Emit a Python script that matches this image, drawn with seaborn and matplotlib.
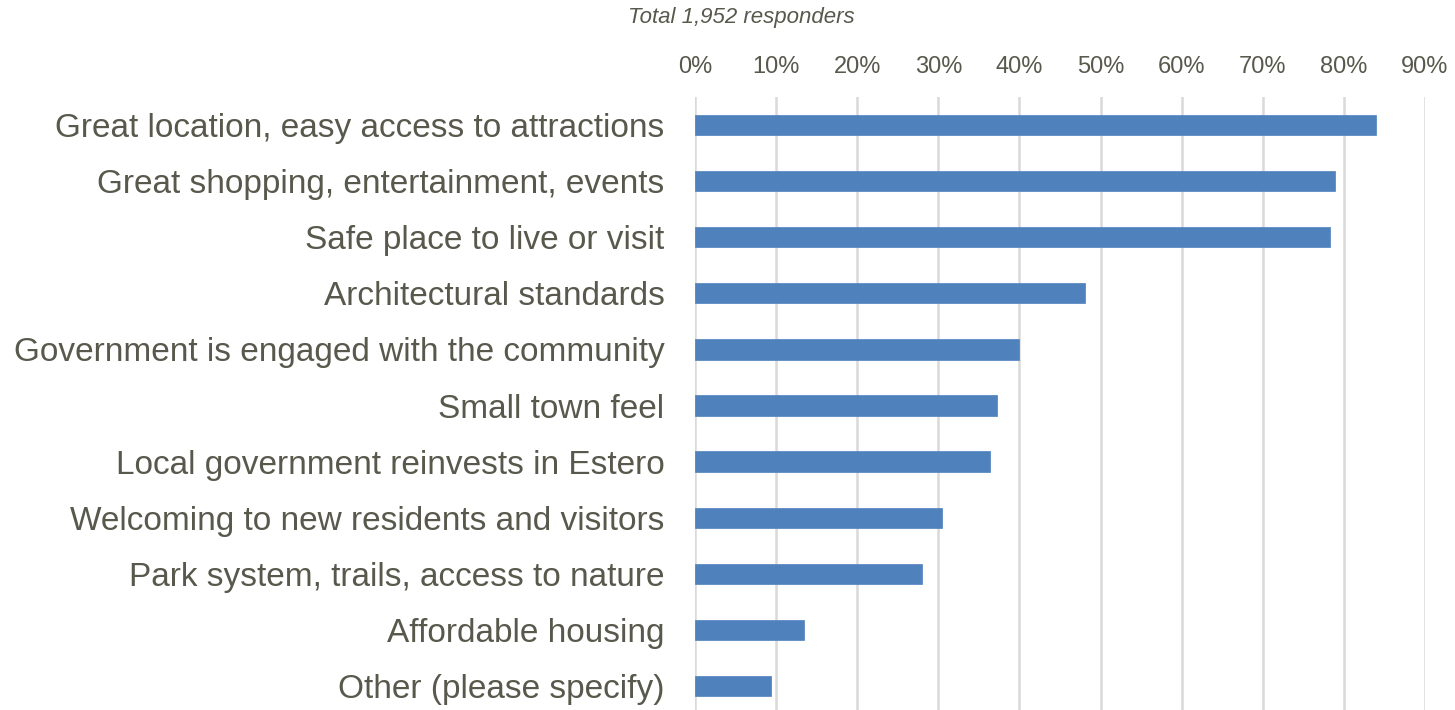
import matplotlib
matplotlib.use("Agg")
import matplotlib.pyplot as plt
import seaborn as sns
import pandas as pd
from matplotlib.ticker import FuncFormatter, MultipleLocator

categories = [
    "Great location, easy access to attractions",
    "Great shopping, entertainment, events",
    "Safe place to live or visit",
    "Architectural standards",
    "Government is engaged with the community",
    "Small town feel",
    "Local government reinvests in Estero",
    "Welcoming to new residents and visitors",
    "Park system, trails, access to nature",
    "Affordable housing",
    "Other (please specify)",
]
values = [83.9, 78.9, 78.3, 48.1, 40.0, 37.2, 36.4, 30.5, 28.0, 13.4, 9.4]
subtitle = "Total 1,952 responders"

df = pd.DataFrame({"category": categories, "value": values})

sns.set_theme(style="white")
plt.rcParams["font.family"] = ["Liberation Sans", "DejaVu Sans"]

text_color = "#58584c"
fig = plt.figure(figsize=(14.55, 7.10), dpi=100)
ax = fig.add_axes([695 / 1455, 1 - 714 / 710, (1425 - 695) / 1455, (714 - 97) / 710])

sns.barplot(data=df, x="value", y="category", orient="h", color="#4F81BD",
            width=0.36, saturation=1, ax=ax, edgecolor="#4F81BD", linewidth=0.5)

ax.set_xlim(0, 90)
ax.set_ylim(len(categories) - 0.5, -0.5)
ax.xaxis.set_major_locator(MultipleLocator(10))
ax.xaxis.set_major_formatter(FuncFormatter(lambda v, p: f"{v:.0f}%"))
ax.xaxis.tick_top()
ax.grid(axis="x", color="#d9d9d9", linewidth=1.8)
ax.set_axisbelow(True)
for s in ax.spines.values():
    s.set_visible(False)
ax.tick_params(axis="x", length=0, pad=14, labelsize=17, labelcolor=text_color)
ax.tick_params(axis="y", length=0, pad=22, labelsize=24, labelcolor=text_color)
ax.set_xlabel("")
ax.set_ylabel("")

fig.text(741 / 1455, 1 - 17 / 710, subtitle, ha="center", va="center",
         fontsize=16, style="italic", color=text_color)

fig.savefig("out.png", dpi=100)
